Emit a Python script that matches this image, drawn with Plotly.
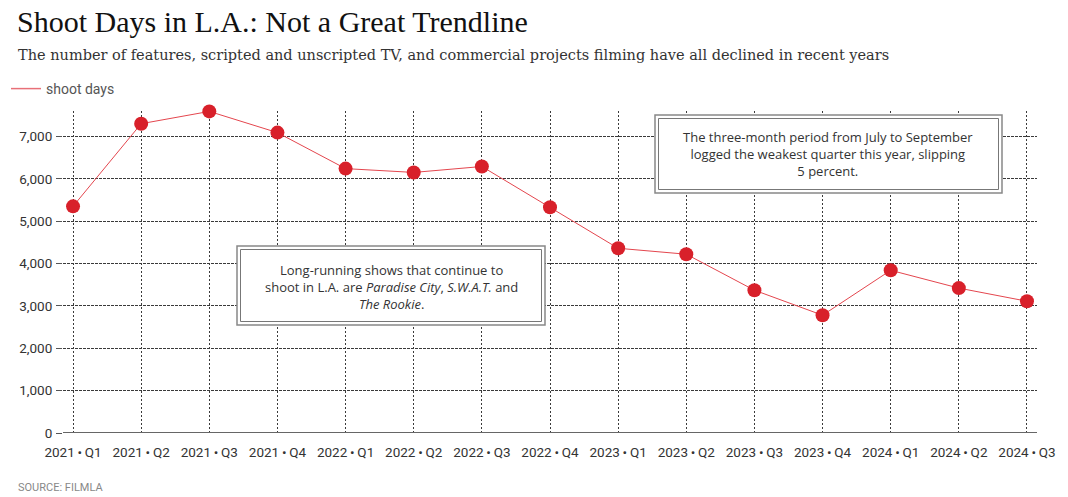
import plotly.graph_objects as go

SEP = "\u2009•\u2009"
categories = ["2021" + SEP + "Q1", "2021" + SEP + "Q2", "2021" + SEP + "Q3", "2021" + SEP + "Q4",
              "2022" + SEP + "Q1", "2022" + SEP + "Q2", "2022" + SEP + "Q3", "2022" + SEP + "Q4",
              "2023" + SEP + "Q1", "2023" + SEP + "Q2", "2023" + SEP + "Q3", "2023" + SEP + "Q4",
              "2024" + SEP + "Q1", "2024" + SEP + "Q2", "2024" + SEP + "Q3"]
shoot_days = [5350, 7300, 7590, 7090, 6240, 6150, 6290, 5330,
              4360, 4220, 3370, 2780, 3840, 3420, 3110]
y_ticks = [0, 1000, 2000, 3000, 4000, 5000, 6000, 7000]
y_tick_labels = ["0", "1,000", "2,000", "3,000", "4,000", "5,000", "6,000", "7,000"]

# the page adds an 8px body margin around the figure
OFF = 8
PAGE_W, PAGE_H = 1068, 497
W, H = PAGE_W - OFF, PAGE_H - OFF
PLOT_X0, PLOT_X1, PLOT_Y0, PLOT_Y1 = 63, 1037, 111, 433  # in page pixels
L, R = PLOT_X0 - OFF, W - (PLOT_X1 - OFF)
T, B = PLOT_Y0 - OFF, H - (PLOT_Y1 - OFF)
PW, PH = PLOT_X1 - PLOT_X0, PLOT_Y1 - PLOT_Y0

def px(x):
    return (x - PLOT_X0) / PW

def py(y):
    return (PLOT_Y1 - y) / PH

idx = list(range(len(categories)))

fig = go.Figure()
fig.add_trace(go.Scatter(
    x=idx, y=shoot_days, mode="lines+markers", name="shoot days",
    line=dict(color="#e4464e", width=1),
    marker=dict(color="#d8202a", size=14),
    showlegend=False, cliponaxis=False,
))
fig.add_trace(go.Scatter(
    x=[None], y=[None], mode="lines", name="shoot days",
    line=dict(color="#e87078", width=1.5),
    showlegend=True,
))

grid_color = "#3a3a3a"
tick_font = dict(family="Roboto", size=13.5, color="#333")
fig.update_xaxes(
    range=[-0.147, len(categories) - 1 + 0.147],
    tickmode="array", tickvals=idx, ticktext=categories,
    showgrid=True, gridcolor=grid_color, gridwidth=1, griddash="2px,2px",
    zeroline=False, showline=False, ticks="", ticklabelstandoff=9,
    tickfont=tick_font,
    fixedrange=True,
)
fig.update_yaxes(
    range=[0, 7600],
    tickmode="array", tickvals=y_ticks, ticktext=y_tick_labels,
    showgrid=True, gridcolor=grid_color, gridwidth=1, griddash="3px,1px",
    zeroline=False, showline=False,
    ticks="outside", ticklen=6, tickcolor="#555", tickwidth=1, ticklabelstandoff=1,
    tickfont=tick_font,
    fixedrange=True,
)

shapes = [
    # zero baseline
    dict(type="line", xref="paper", yref="y", x0=0, x1=1, y0=0, y1=0,
         line=dict(color="#666", width=2), layer="above"),
    # box 1 double border
    dict(type="rect", xref="paper", yref="paper",
         x0=px(237), x1=px(545), y0=py(325), y1=py(246),
         line=dict(color="#888", width=1.5), fillcolor="white", layer="above"),
    dict(type="rect", xref="paper", yref="paper",
         x0=px(240.5), x1=px(541.5), y0=py(321.5), y1=py(249.5),
         line=dict(color="#777", width=1), layer="above"),
    # box 2 double border
    dict(type="rect", xref="paper", yref="paper",
         x0=px(655), x1=px(1002), y0=py(193), y1=py(115),
         line=dict(color="#888", width=1.5), fillcolor="white", layer="above"),
    dict(type="rect", xref="paper", yref="paper",
         x0=px(658.5), x1=px(998.5), y0=py(189.5), y1=py(118.5),
         line=dict(color="#777", width=1), layer="above"),
]

ann_font = dict(family="Open Sans", size=13, color="#333")
annotations = [
    dict(xref="paper", yref="paper", x=px(391), y=py(287),
         text="Long-running shows that continue to<br>shoot in L.A. are <i>Paradise City</i>, <i>S.W.A.T.</i> and<br><i>The Rookie</i>.",
         showarrow=False, align="center", xanchor="center", yanchor="middle",
         font=ann_font),
    dict(xref="paper", yref="paper", x=px(828), y=py(154),
         text="The three-month period from July to September<br>logged the weakest quarter this year, slipping<br>5 percent.",
         showarrow=False, align="center", xanchor="center", yanchor="middle",
         font=ann_font),
    dict(xref="paper", yref="paper", x=px(16), y=py(55),
         text="The number of features, scripted and unscripted TV, and commercial projects filming have all declined in recent years",
         showarrow=False, xanchor="left", yanchor="middle",
         font=dict(family="DejaVu Serif", size=14.5, color="#333")),
    dict(xref="paper", yref="paper", x=px(16), y=py(487),
         text="SOURCE: FILMLA",
         showarrow=False, xanchor="left", yanchor="middle",
         font=dict(family="Roboto", size=11, color="#888")),
]

fig.update_layout(
    width=W, height=H,
    margin=dict(l=L, r=R, t=T, b=B, autoexpand=False),
    paper_bgcolor="white", plot_bgcolor="white",
    title=dict(text="Shoot Days in L.A.: Not a Great Trendline",
               xref="container", yref="container",
               x=(17 - OFF) / W, y=1 - 3 / H, xanchor="left", yanchor="top",
               pad=dict(t=0, b=0, l=0, r=0),
               font=dict(family="Liberation Serif", size=30, color="#111")),
    legend=dict(x=px(6), y=py(89), xanchor="left", yanchor="middle",
                orientation="h", font=dict(family="Roboto", size=14, color="#555"),
                itemwidth=30, bgcolor="rgba(0,0,0,0)"),
    shapes=shapes,
    annotations=annotations,
    hovermode=False,
)

fig.write_html("out.html")
